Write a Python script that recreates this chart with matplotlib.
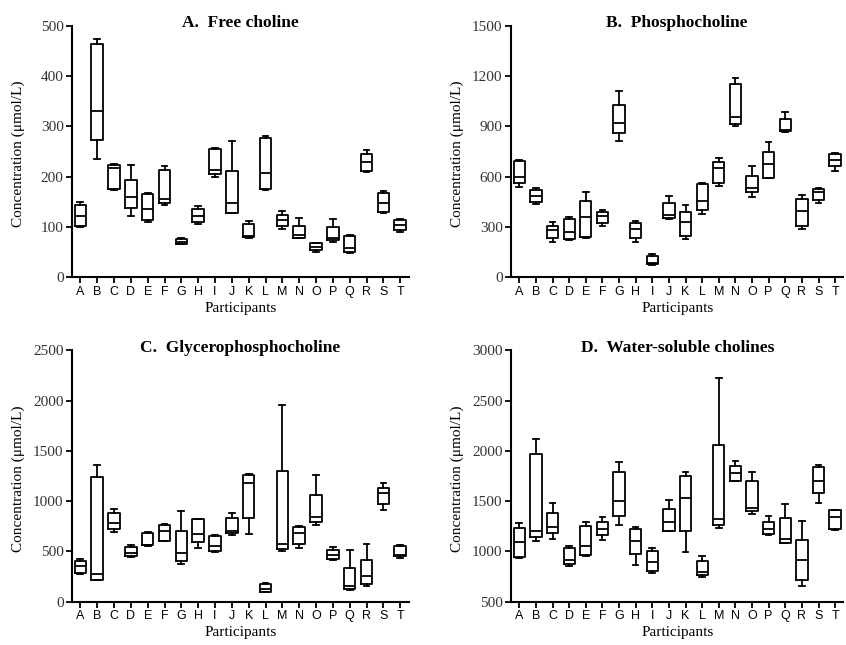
import numpy as np
import matplotlib
matplotlib.use('Agg')
import matplotlib.pyplot as plt

participants = list('ABCDEFGHIJKLMNOPQRST')

# whisker low, q1, median, q3, whisker high (umol/L)
free_lo  = [100, 235, 174, 121, 111, 143, 66, 107, 200, 128, 78, 174, 97, 78, 51, 71, 49, 209, 127, 90]
free_q1  = [102, 274, 176, 137, 113, 147, 67, 110, 206, 128, 80, 176, 103, 79, 55, 74, 51, 212, 129, 95]
free_med = [122, 331, 217, 160, 136, 155, 70, 121, 213, 148, 82, 207, 113, 85, 60, 79, 59, 230, 148, 105]
free_q3  = [143, 463, 223, 194, 166, 214, 77, 135, 256, 212, 107, 276, 123, 103, 68, 101, 83, 245, 167, 113]
free_hi  = [149, 473, 225, 223, 167, 221, 78, 141, 258, 271, 112, 281, 131, 117, 69, 116, 84, 253, 171, 116]

pc_lo  = [539, 439, 212, 223, 235, 308, 814, 213, 73, 348, 231, 379, 545, 901, 480, 591, 867, 288, 441, 632]
pc_q1  = [565, 447, 235, 227, 239, 324, 862, 235, 77, 352, 245, 401, 563, 917, 506, 595, 871, 308, 460, 662]
pc_med = [601, 486, 282, 273, 358, 368, 919, 288, 85, 371, 332, 456, 652, 956, 534, 676, 880, 393, 510, 700]
pc_q3  = [694, 520, 308, 348, 458, 387, 1026, 324, 130, 443, 387, 559, 686, 1150, 605, 747, 945, 466, 528, 735]
pc_hi  = [701, 533, 332, 360, 506, 403, 1109, 338, 138, 486, 433, 560, 711, 1186, 662, 806, 984, 490, 533, 743]

gpc_lo  = [278, 212, 691, 450, 556, 602, 377, 532, 493, 665, 675, 93, 509, 536, 767, 413, 122, 152, 909, 433]
gpc_q1  = [284, 218, 724, 456, 562, 608, 403, 592, 503, 681, 833, 99, 522, 572, 794, 423, 132, 172, 972, 456]
gpc_med = [357, 278, 787, 480, 565, 708, 489, 678, 559, 708, 1184, 125, 579, 685, 840, 466, 159, 258, 1085, 465]
gpc_q3  = [410, 1237, 886, 549, 681, 767, 708, 820, 655, 837, 1257, 175, 1303, 741, 1065, 516, 337, 420, 1134, 556]
gpc_hi  = [423, 1362, 926, 562, 694, 774, 903, 820, 661, 886, 1270, 185, 1954, 754, 1263, 542, 516, 575, 1177, 565]

ws_lo  = [937, 1102, 1128, 854, 956, 1115, 1267, 864, 784, 1201, 993, 751, 1234, 1697, 1373, 1161, 1082, 652, 1485, 1214]
ws_q1  = [950, 1142, 1181, 874, 963, 1161, 1350, 976, 808, 1208, 1208, 765, 1261, 1700, 1403, 1175, 1089, 712, 1585, 1221]
ws_med = [1095, 1201, 1247, 913, 1056, 1228, 1499, 1102, 897, 1294, 1532, 800, 1327, 1780, 1433, 1224, 1128, 920, 1700, 1343]
ws_q3  = [1237, 1968, 1386, 1036, 1254, 1294, 1786, 1228, 1009, 1426, 1753, 903, 2058, 1853, 1697, 1297, 1333, 1115, 1839, 1409]
ws_hi  = [1287, 2120, 1482, 1052, 1297, 1340, 1892, 1241, 1036, 1515, 1786, 953, 2729, 1899, 1793, 1350, 1472, 1307, 1859, 1416]

panels = [
    ('A.  Free choline', (free_lo, free_q1, free_med, free_q3, free_hi), (0, 500), 100),
    ('B.  Phosphocholine', (pc_lo, pc_q1, pc_med, pc_q3, pc_hi), (0, 1500), 300),
    ('C.  Glycerophosphocholine', (gpc_lo, gpc_q1, gpc_med, gpc_q3, gpc_hi), (0, 2500), 500),
    ('D.  Water-soluble cholines', (ws_lo, ws_q1, ws_med, ws_q3, ws_hi), (500, 3000), 500),
]
ylabel = 'Concentration (\u03bcmol/L)'

rects = [
    [0.085, 0.570, 0.398, 0.390],
    [0.604, 0.570, 0.393, 0.390],
    [0.085, 0.067, 0.398, 0.390],
    [0.604, 0.067, 0.393, 0.390],
]

serif = 'Liberation Serif'
sans = 'Liberation Sans'

fig = plt.figure(figsize=(8.46, 6.45), dpi=100)

for (title, cols, ylim, step), rect in zip(panels, rects):
    ax = fig.add_axes(rect)
    lo, q1, med, q3, hi = cols
    stats = []
    for i in range(len(participants)):
        stats.append(dict(whislo=lo[i], q1=q1[i], med=med[i], q3=q3[i],
                          whishi=hi[i], fliers=[], label=participants[i]))
    pos = np.arange(1, len(participants) + 1)
    lp = dict(color='black', linewidth=1.3)
    ax.bxp(stats, positions=pos, widths=0.68, capwidths=0.34, showfliers=False,
           boxprops=lp, whiskerprops=lp, capprops=lp, medianprops=lp)

    ax.set_xlim(0.5, 20.5)
    ax.set_ylim(*ylim)
    ax.set_yticks(np.arange(ylim[0], ylim[1] + 1, step))
    ax.set_xticks(pos)
    ax.set_xticklabels(participants, fontfamily=sans, fontsize=9)
    for lab in ax.get_yticklabels():
        lab.set_fontfamily(serif)
        lab.set_fontsize(11)
        lab.set_color('#333333')

    for s in ['top', 'right']:
        ax.spines[s].set_visible(False)
    for s in ['left', 'bottom']:
        ax.spines[s].set_linewidth(1.5)
    ax.tick_params(axis='both', direction='out', length=4, width=1.3, pad=2)

    ax.set_ylabel(ylabel, fontfamily=serif, fontsize=11)
    ax.yaxis.set_label_coords(-0.14, 0.49)
    ax.set_xlabel('Participants', fontfamily=serif, fontsize=11, labelpad=3)
    ax.text(0.5, 1.01, title, transform=ax.transAxes, ha='center', va='center',
            fontfamily=serif, fontweight='bold', fontsize=12.5)

fig.savefig('out.png', dpi=100)
